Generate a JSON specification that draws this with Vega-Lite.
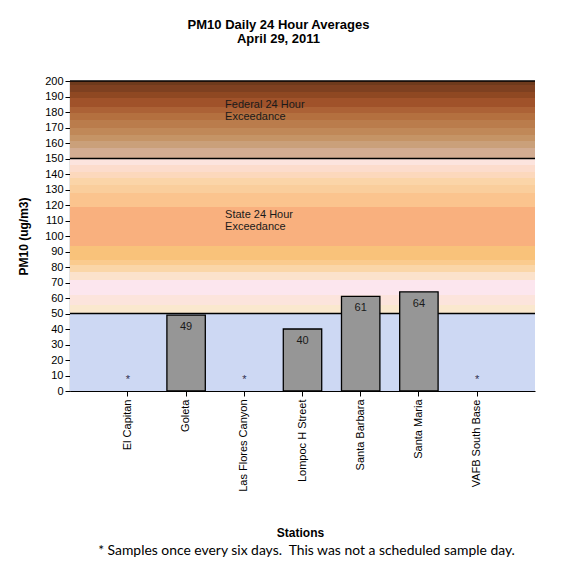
{
  "$schema": "https://vega.github.io/schema/vega-lite/v6.json",
  "autosize": {"type": "none"},
  "width": 465,
  "height": 310,
  "padding": {"left": 70, "top": 81, "right": 35, "bottom": 175},
  "background": "white",
  "title": {
    "text": "* Samples once every six days.\u00a0 This was not a scheduled sample day.",
    "orient": "bottom",
    "anchor": "middle",
    "frame": "group",
    "font": "Lato",
    "fontSize": 13.9,
    "fontWeight": "normal",
    "color": "#000000",
    "offset": 6,
    "dx": 4
  },
  "datasets": {
    "zones": [
      {"zone": "good", "lo": 0, "hi": 50},
      {"zone": "state", "lo": 50, "hi": 150},
      {"zone": "federal", "lo": 150, "hi": 200}
    ],
    "stations": [
      {"station": "El Capitan", "pm10": null, "note": "*"},
      {"station": "Goleta", "pm10": 49, "note": ""},
      {"station": "Las Flores Canyon", "pm10": null, "note": "*"},
      {"station": "Lompoc H Street", "pm10": 40, "note": ""},
      {"station": "Santa Barbara", "pm10": 61, "note": ""},
      {"station": "Santa Maria", "pm10": 64, "note": ""},
      {"station": "VAFB South Base", "pm10": null, "note": "*"}
    ],
    "labels": [
      {"station": "Las Flores Canyon", "level": 182.6, "text": "Federal 24 Hour\nExceedance"},
      {"station": "Las Flores Canyon", "level": 111.8, "text": "State 24 Hour\nExceedance"}
    ]
  },
  "config": {
    "view": {"stroke": null},
    "axis": {
      "domainColor": "#000000",
      "tickColor": "#000000",
      "labelColor": "#000000",
      "titleColor": "#000000",
      "labelFont": "Liberation Sans",
      "titleFont": "Liberation Sans",
      "grid": false
    },
    "axisY": {
      "tickCount": 30,
      "labelOverlap": false,
      "labelFontSize": 11,
      "labelPadding": 2,
      "tickSize": 5,
      "domainWidth": 1.2,
      "titleFontSize": 12,
      "titleFontWeight": "bold"
    }
  },
  "resolve": {"axis": {"x": "independent"}},
  "layer": [
    {
      "data": {"name": "zones"},
      "transform": [{"filter": "datum.zone === 'good'"}],
      "mark": {"type": "rect", "fill": "#CDD8F3"},
      "encoding": {
        "y": {
          "field": "lo", "type": "quantitative",
          "scale": {"domain": [0, 200], "nice": false, "zero": true},
          "title": "PM10 (ug/m3)",
          "axis": {
            "values": [0, 10, 20, 30, 40, 50, 60, 70, 80, 90, 100, 110, 120, 130, 140, 150, 160, 170, 180, 190, 200],
            "tickCount": 30,
            "labelOverlap": false,
            "titleAngle": 270,
            "titleX": -47,
            "titleY": 155,
            "titleAlign": "center",
            "titleBaseline": "middle"
          }
        },
        "y2": {"field": "hi"}
      }
    },
    {
      "data": {"name": "zones"},
      "transform": [{"filter": "datum.zone === 'state'"}],
      "mark": {
        "type": "rect",
        "fill": {
          "gradient": "linear", "x1": 0, "y1": 0, "x2": 0, "y2": 1,
          "stops": [
            {"offset": 0, "color": "#FCE4DE"}, {"offset": 0.045, "color": "#FCE4DE"},
            {"offset": 0.045, "color": "#FCDCCC"}, {"offset": 0.084, "color": "#FCDCCC"},
            {"offset": 0.084, "color": "#FCD8BC"}, {"offset": 0.127, "color": "#FCD8BC"},
            {"offset": 0.127, "color": "#FBD5A8"}, {"offset": 0.17, "color": "#FBD5A8"},
            {"offset": 0.17, "color": "#FACE9C"}, {"offset": 0.22, "color": "#FACE9C"},
            {"offset": 0.22, "color": "#FBC48E"}, {"offset": 0.316, "color": "#FBC48E"},
            {"offset": 0.316, "color": "#F9B07E"}, {"offset": 0.567, "color": "#F9B07E"},
            {"offset": 0.567, "color": "#F9C27A"}, {"offset": 0.653, "color": "#F9C27A"},
            {"offset": 0.653, "color": "#FACB8E"}, {"offset": 0.685, "color": "#FACB8E"},
            {"offset": 0.685, "color": "#FAD6A8"}, {"offset": 0.734, "color": "#FAD6A8"},
            {"offset": 0.734, "color": "#FBE2CC"}, {"offset": 0.782, "color": "#FBE2CC"},
            {"offset": 0.782, "color": "#FCE6EE"}, {"offset": 0.878, "color": "#FCE6EE"},
            {"offset": 0.878, "color": "#FCE4DC"}, {"offset": 0.943, "color": "#FCE4DC"},
            {"offset": 0.943, "color": "#FAE8CE"}, {"offset": 1, "color": "#FAE8CE"}
          ]
        }
      },
      "encoding": {
        "y": {"field": "lo", "type": "quantitative", "title": "PM10 (ug/m3)"},
        "y2": {"field": "hi"}
      }
    },
    {
      "data": {"name": "zones"},
      "transform": [{"filter": "datum.zone === 'federal'"}],
      "mark": {
        "type": "rect",
        "fill": {
          "gradient": "linear", "x1": 0, "y1": 0, "x2": 0, "y2": 1,
          "stops": [
            {"offset": 0, "color": "#6E3A1C"}, {"offset": 0.052, "color": "#6E3A1C"},
            {"offset": 0.052, "color": "#7E4020"}, {"offset": 0.136, "color": "#7E4020"},
            {"offset": 0.136, "color": "#8F4822"}, {"offset": 0.222, "color": "#8F4822"},
            {"offset": 0.222, "color": "#A0522A"}, {"offset": 0.33, "color": "#A0522A"},
            {"offset": 0.33, "color": "#AC6236"}, {"offset": 0.416, "color": "#AC6236"},
            {"offset": 0.416, "color": "#B4703F"}, {"offset": 0.502, "color": "#B4703F"},
            {"offset": 0.502, "color": "#BA7C4C"}, {"offset": 0.61, "color": "#BA7C4C"},
            {"offset": 0.61, "color": "#C08858"}, {"offset": 0.696, "color": "#C08858"},
            {"offset": 0.696, "color": "#C59466"}, {"offset": 0.78, "color": "#C59466"},
            {"offset": 0.78, "color": "#CAA07A"}, {"offset": 0.868, "color": "#CAA07A"},
            {"offset": 0.868, "color": "#D2AC92"}, {"offset": 1, "color": "#D2AC92"}
          ]
        }
      },
      "encoding": {
        "y": {"field": "lo", "type": "quantitative", "title": "PM10 (ug/m3)"},
        "y2": {"field": "hi"}
      }
    },
    {
      "data": {"name": "zones"},
      "mark": {"type": "rule", "color": "#000000", "strokeWidth": 1.3},
      "encoding": {
        "y": {"field": "hi", "type": "quantitative", "title": "PM10 (ug/m3)"}
      }
    },
    {
      "data": {"name": "stations"},
      "mark": {"type": "bar", "fill": "#969696", "stroke": "#000000", "strokeWidth": 1.3},
      "encoding": {
        "x": {
          "field": "station", "type": "nominal", "sort": null,
          "scale": {"paddingInner": 0.34, "paddingOuter": 0.665},
          "title": "Stations",
          "axis": {
            "labelAngle": 270,
            "labelFontSize": 11,
            "labelPadding": 3,
            "tickSize": 5,
            "domainWidth": 1.2,
            "titleFontSize": 12,
            "titleFontWeight": "bold",
            "titleX": 230,
            "titleY": 145,
            "titleAlign": "center",
            "titleBaseline": "alphabetic"
          }
        },
        "y": {"field": "pm10", "type": "quantitative", "title": "PM10 (ug/m3)"}
      }
    },
    {
      "data": {"name": "stations"},
      "mark": {"type": "text", "font": "Liberation Sans", "fontSize": 11, "color": "#1A1A1A", "baseline": "middle", "dy": 12},
      "encoding": {
        "x": {"field": "station", "type": "nominal", "sort": null, "axis": null},
        "y": {"field": "pm10", "type": "quantitative", "title": "PM10 (ug/m3)"},
        "text": {"field": "pm10", "type": "quantitative"}
      }
    },
    {
      "data": {"name": "stations"},
      "mark": {"type": "text", "font": "Liberation Sans", "fontSize": 11, "color": "#303050", "baseline": "alphabetic", "dy": -8},
      "encoding": {
        "x": {
          "field": "station", "type": "nominal", "sort": null,
          "title": ["PM10 Daily 24 Hour Averages", "April 29, 2011"],
          "axis": {
            "orient": "top",
            "labels": false,
            "ticks": false,
            "domain": false,
            "titleFontSize": 13,
            "titleFontWeight": "bold",
            "titleLineHeight": 14,
            "titleX": 208,
            "titleY": -53,
            "titleAlign": "center",
            "titleBaseline": "alphabetic"
          }
        },
        "y": {"datum": 0, "type": "quantitative", "title": "PM10 (ug/m3)"},
        "text": {"field": "note", "type": "nominal"}
      }
    },
    {
      "data": {"name": "labels"},
      "mark": {"type": "text", "font": "Liberation Sans", "fontSize": 11, "color": "#1A1A1A", "align": "left", "baseline": "alphabetic", "lineBreak": "\n", "lineHeight": 12},
      "encoding": {
        "x": {"field": "station", "type": "nominal", "bandPosition": 0, "axis": null},
        "y": {"field": "level", "type": "quantitative", "title": "PM10 (ug/m3)"},
        "text": {"field": "text", "type": "nominal"}
      }
    }
  ]
}
